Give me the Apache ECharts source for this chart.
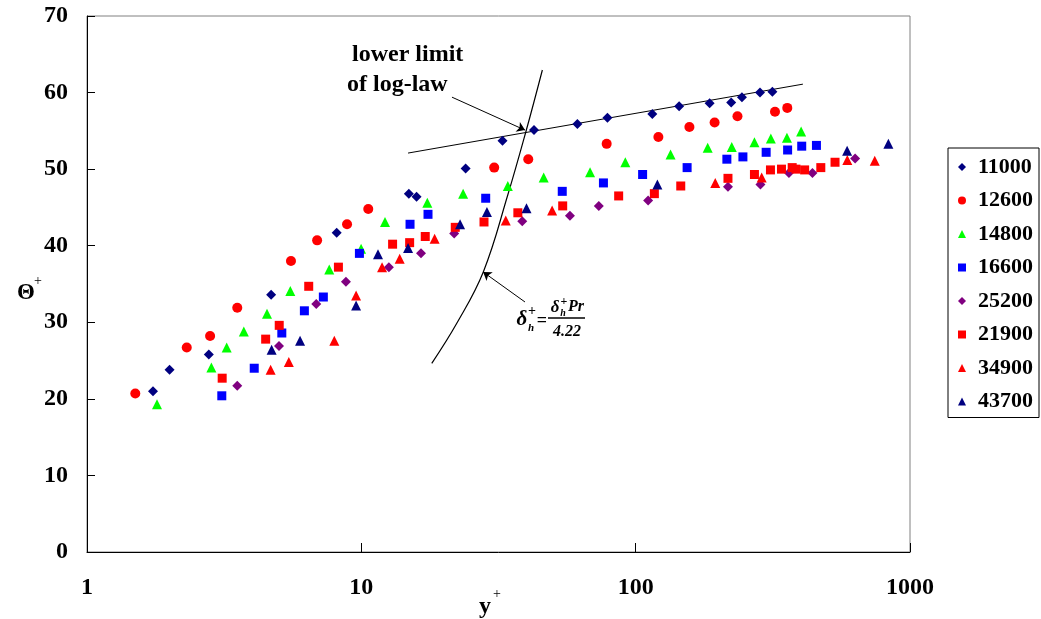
<!DOCTYPE html>
<html>
<head>
<meta charset="utf-8">
<script src="https://cdn.jsdelivr.net/npm/echarts@6/dist/echarts.min.js"></script>
<style>
  html, body { margin: 0; padding: 0; background: #fff; }
  #chart { width: 1041px; height: 619px; }
</style>
</head>
<body>
<div id="chart"></div>
<script>
// Reynolds numbers shown in the legend
const categories = ['11000', '12600', '14800', '16600', '25200', '21900', '34900', '43700'];
const xTicks = ['1', '10', '100', '1000'];
const yTicks = [0, 10, 20, 30, 40, 50, 60, 70];

// [y+, Θ+] pairs per run
const s11000 = [[1.74,21.0],[2.0,23.8],[2.78,25.8],[4.69,33.6],[8.13,41.7],[14.9,46.8],[15.9,46.4],[24.0,50.1],[32.7,53.7],[42.6,55.1],[61.3,55.9],[78.9,56.7],[115,57.2],[144,58.2],[186,58.6],[223,58.7],[244,59.4],[284,60.0],[315,60.1]];
const s12600 = [[1.50,20.7],[2.31,26.7],[2.81,28.2],[3.53,31.9],[5.54,38.0],[6.90,40.7],[8.87,42.8],[10.6,44.8],[30.5,50.2],[40.6,51.3],[78.4,53.3],[121,54.2],[157,55.5],[194,56.1],[235,56.9],[322,57.5],[357,58.0]];
const s14800 = [[1.80,19.3],[2.84,24.1],[3.23,26.7],[3.73,28.8],[4.53,31.1],[5.51,34.1],[7.64,36.9],[9.98,39.6],[12.2,43.1],[17.4,45.6],[23.5,46.8],[34.2,47.8],[46.2,48.9],[68.2,49.6],[91.7,50.9],[134,51.9],[183,52.8],[224,52.9],[271,53.5],[311,54.0],[356,54.1],[401,54.9]];
const s16600 = [[3.10,20.4],[4.07,24.0],[5.13,28.6],[6.20,31.5],[7.27,33.3],[9.84,39.0],[15.05,42.8],[17.5,44.1],[28.4,46.2],[54.0,47.1],[76.3,48.2],[106,49.3],[154,50.2],[215,51.3],[246,51.6],[299,52.2],[358,52.5],[403,53.0],[456,53.1]];
const s25200 = [[3.53,21.7],[5.01,26.9],[6.85,32.4],[8.79,35.3],[12.6,37.2],[16.5,39.0],[21.8,41.6],[38.6,43.2],[57.6,43.9],[73.4,45.2],[111,45.9],[217,47.7],[285,48.0],[362,49.5],[441,49.5],[631,51.4]];
const s21900 = [[3.11,22.7],[4.48,27.8],[5.02,29.6],[6.43,34.7],[8.25,37.2],[13.0,40.2],[15.0,40.4],[17.1,41.2],[22.0,42.4],[28.0,43.1],[37.2,44.3],[54.2,45.2],[86.7,46.5],[117,46.8],[146,47.8],[217,48.8],[271,49.3],[310,49.9],[340,50.0],[372,50.2],[384,50.0],[413,49.9],[473,50.2],[533,50.9]];
const s34900 = [[4.67,23.8],[5.44,24.8],[7.97,27.6],[9.57,33.5],[11.9,37.2],[13.8,38.3],[18.5,40.9],[33.6,43.3],[49.6,44.6],[195,48.2],[288,48.9],[591,51.2],[744,51.1]];
const s43700 = [[4.71,26.4],[5.98,27.6],[9.57,32.2],[11.5,38.9],[14.8,39.7],[22.9,42.8],[28.7,44.4],[40.0,44.9],[120,48.0],[590,52.4],[834,53.3]];

// log-law reference line and the δh+ Pr / 4.22 curve
const logLawLine = [[14.8,52.1],[407,61.1]];
const limitCurve = [[18.06,24.64],[22.28,29.87],[27.86,36.61],[34.18,46.62],[39.86,54.98],[45.7,62.95]];
// annotation arrows: [from, to]
const arrowLogLaw = [[21.4,59.4],[39.5,55.1]];
const arrowCurve = [[39.5,32.65],[27.8,36.57]];

const runs = [
  { name: '11000', data: s11000, symbol: 'diamond',  size: 10, color: '#000080' },
  { name: '12600', data: s12600, symbol: 'circle',   size: 10, color: '#FF0000' },
  { name: '14800', data: s14800, symbol: 'triangle', size: 10, color: '#00FF00' },
  { name: '16600', data: s16600, symbol: 'rect',     size: 9,  color: '#0000FF' },
  { name: '25200', data: s25200, symbol: 'diamond',  size: 10, color: '#800080' },
  { name: '21900', data: s21900, symbol: 'rect',     size: 9,  color: '#FF0000' },
  { name: '34900', data: s34900, symbol: 'triangle', size: 10, color: '#FF0000' },
  { name: '43700', data: s43700, symbol: 'triangle', size: 10, color: '#000080' }
];

const SERIF = '"Liberation Serif", "Times New Roman", serif';
const chart = echarts.init(document.getElementById('chart'), null, { renderer: 'canvas' });

const series = runs.map(r => ({
  type: 'scatter',
  name: r.name,
  data: r.data,
  symbol: r.symbol,
  symbolSize: r.size,
  itemStyle: { color: r.color, opacity: 1 },
  z: 3
}));

series.push({
  type: 'line', name: 'log-law', data: logLawLine, symbol: 'none', silent: true,
  lineStyle: { color: '#000', width: 1 }, z: 2
});
series.push({
  type: 'line', name: 'limit', data: limitCurve, symbol: 'none', smooth: 0.4, silent: true,
  lineStyle: { color: '#000', width: 1.2 }, z: 2
});
series.push({
  type: 'lines', coordinateSystem: 'cartesian2d', silent: true, z: 4,
  symbol: ['none', 'arrow'], symbolSize: 8,
  lineStyle: { color: '#000', width: 1, opacity: 1 },
  data: [{ coords: arrowLogLaw }, { coords: arrowCurve }]
});

const bold = (size, extra) => (extra ? extra + ' ' : '') + 'bold ' + size + 'px ' + SERIF;
const txt = (x, y, text, font, align) => ({
  type: 'text', x: x, y: y, silent: true, z: 10,
  style: { text: text, font: font, fill: '#000', align: align || 'center', verticalAlign: 'middle' }
});

chart.setOption({
  animation: false,
  backgroundColor: '#fff',
  grid: {
    left: 87, right: 131, top: 16, bottom: 67,
    show: true, borderColor: '#808080', borderWidth: 1,
    containLabel: false, outerBoundsMode: 'none'
  },
  xAxis: {
    type: 'log', logBase: 10, min: 1, max: 1000,
    axisLine: { lineStyle: { color: '#000', width: 1 } },
    axisTick: { inside: true, length: 9, lineStyle: { color: '#000' } },
    minorTick: { show: false },
    splitLine: { show: false },
    axisLabel: {
      margin: 24, color: '#000', fontSize: 24, fontWeight: 'bold', fontFamily: SERIF,
      formatter: v => xTicks[Math.round(Math.log10(v))]
    }
  },
  yAxis: {
    type: 'value', min: 0, max: 70, interval: 10,
    axisLine: { show: true, lineStyle: { color: '#000', width: 1 } },
    axisTick: { show: true, inside: true, length: 8, lineStyle: { color: '#000' } },
    splitLine: { show: false },
    axisLabel: {
      margin: 19, color: '#000', fontSize: 24, fontWeight: 'bold', fontFamily: SERIF,
      formatter: v => String(yTicks[yTicks.indexOf(v)])
    }
  },
  legend: {
    data: categories,
    orient: 'vertical',
    left: 948, top: 148,
    padding: [7, 6, 4, 10],
    itemGap: 9.5,
    itemWidth: 8, itemHeight: 8,
    symbolKeepAspect: true,
    borderColor: '#000', borderWidth: 1,
    backgroundColor: '#fff',
    selectedMode: false,
    textStyle: {
      color: '#000', fontSize: 22, fontWeight: 'bold', fontFamily: SERIF, lineHeight: 24,
      padding: [0, 0, 0, 7]
    }
  },
  series: series,
  graphic: [
    // axis titles
    txt(26, 293, 'Θ', bold(23)),
    txt(38, 281, '+', '14px ' + SERIF),
    txt(485, 607, 'y', bold(24)),
    txt(497, 594, '+', '14px ' + SERIF),
    // log-law note
    txt(352, 55, 'lower limit', bold(24), 'left'),
    txt(347, 85, 'of log-law', bold(24), 'left'),
    // formula label
    txt(522, 320, 'δ', bold(21, 'italic')),
    txt(532, 311, '+', bold(14)),
    txt(531, 328, 'h', bold(11, 'italic')),
    txt(542, 321, '=', bold(18)),
    txt(555, 308, 'δ', bold(17, 'italic')),
    txt(564, 302, '+', bold(12)),
    txt(563, 313, 'h', bold(10, 'italic')),
    txt(576, 307, 'Pr', bold(16, 'italic')),
    txt(567, 332, '4.22', bold(16, 'italic')),
    {
      type: 'line', silent: true, z: 10,
      shape: { x1: 548, y1: 318, x2: 585, y2: 318 },
      style: { stroke: '#000', lineWidth: 1.5 }
    }
  ]
});
</script>
</body>
</html>
